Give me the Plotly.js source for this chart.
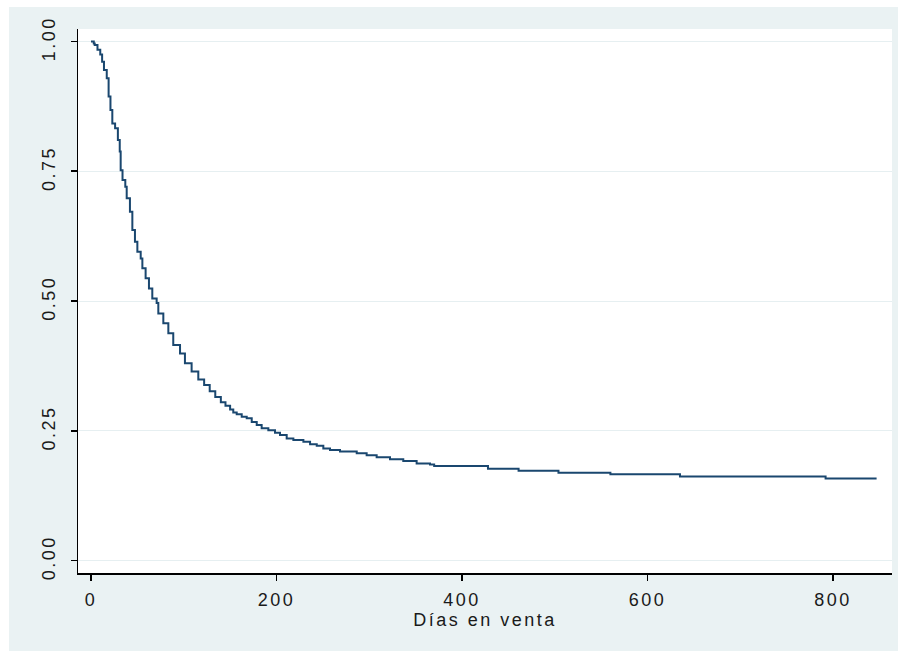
<!DOCTYPE html>
<html>
<head>
<meta charset="utf-8">
<script src="https://cdn.plot.ly/plotly-3.0.1.min.js"></script>
<style>
html,body{margin:0;padding:0;background:#fff;}
#chart{width:906px;height:659px;}
#chart svg text{letter-spacing:2.5px;}
</style>
</head>
<body>
<div id="chart"></div>
<script>
// Kaplan-Meier survival estimate
var days = [0, 3, 4, 7, 10, 12, 14, 17, 19, 21, 23, 26, 29, 31, 32, 34, 37, 38.5, 42, 44.6, 47.4, 50, 53.6, 55.4, 58.9, 62.5, 66.1, 70.8, 72.6, 78, 83.4, 88.7, 96, 101.3, 108.5, 115.7, 122, 128, 134, 140, 145, 150, 153.4, 157.1, 162.5, 167.9, 173.3, 178.7, 184, 191.2, 198.4, 203.8, 211, 218.2, 229, 236.2, 243.4, 250.5, 257.7, 268.5, 286.5, 297.2, 308, 322.4, 336.7, 351.1, 365.5, 370, 428, 461, 504, 560, 635, 792, 847];
var surv = [1.000, 0.996, 0.993, 0.984, 0.975, 0.961, 0.945, 0.929, 0.894, 0.868, 0.842, 0.833, 0.810, 0.788, 0.752, 0.733, 0.720, 0.698, 0.672, 0.637, 0.614, 0.595, 0.582, 0.563, 0.544, 0.524, 0.505, 0.496, 0.476, 0.457, 0.438, 0.415, 0.399, 0.380, 0.364, 0.349, 0.338, 0.326, 0.315, 0.305, 0.298, 0.291, 0.285, 0.282, 0.277, 0.274, 0.267, 0.261, 0.255, 0.251, 0.246, 0.242, 0.235, 0.232, 0.229, 0.224, 0.221, 0.216, 0.213, 0.210, 0.2065, 0.203, 0.199, 0.195, 0.192, 0.187, 0.185, 0.182, 0.177, 0.173, 0.169, 0.166, 0.162, 0.158, 0.158];
var xTicks = [0, 200, 400, 600, 800];
var yTicks = [0, 0.25, 0.5, 0.75, 1];
var yTickText = ["0.00", "0.25", "0.50", "0.75", "1.00"];
var titleText = "Gráfica 3. Función de sobrevivencia";
var xTitle = "Días en venta";

var font = "Liberation Sans, Arial, sans-serif";
var txtColor = "#1a1a1a";
var trace = {
  x: days, y: surv, type: "scatter", mode: "lines",
  line: {shape: "hv", color: "#1a476f", width: 2},
  hoverinfo: "skip", showlegend: false
};
var layout = {
  width: 906, height: 659,
  margin: {l: 78, r: 14, t: 29, b: 86, pad: 0},
  paper_bgcolor: "#ffffff",
  plot_bgcolor: "rgba(0,0,0,0)",
  font: {family: font, size: 18, color: txtColor},
  showlegend: false,
  xaxis: {
    range: [-14, 863.6], tickvals: xTicks, ticktext: xTicks.map(String),
    showgrid: false, zeroline: false,
    showline: true, linecolor: "#000", linewidth: 1.5, mirror: false,
    ticks: "outside", ticklen: 6, tickwidth: 1.5, tickcolor: "#000",
    ticklabelstandoff: 4,
    tickfont: {family: font, size: 18, color: txtColor},
    title: {text: xTitle, font: {family: font, size: 18, color: txtColor}, standoff: 4}
  },
  yaxis: {
    range: [-0.024, 1.024], tickvals: yTicks, ticktext: yTickText,
    showgrid: true, gridcolor: "#e6eff1", gridwidth: 1, zeroline: false,
    showline: true, linecolor: "#000", linewidth: 1.5,
    ticks: "outside", ticklen: 6, tickwidth: 1.5, tickcolor: "#000",
    ticklabelstandoff: 8,
    tickangle: -90, tickfont: {family: font, size: 18, color: txtColor}
  },
  shapes: [
    {type: "rect", xref: "paper", yref: "paper", x0: -0.0848, x1: 1.0074, y0: -0.1434, y1: 1.0404,
     fillcolor: "#eaf2f3", line: {width: 0}, layer: "below"},
    {type: "rect", xref: "paper", yref: "paper", x0: 0, x1: 1, y0: 0, y1: 1,
     fillcolor: "#ffffff", line: {width: 0}, layer: "below"}
  ],
  annotations: [
    {text: titleText, xref: "paper", yref: "paper", x: 0.43, y: 1.0418,
     xanchor: "center", yanchor: "bottom", showarrow: false,
     font: {family: font, size: 19, color: "#222"}}
  ]
};
Plotly.newPlot("chart", [trace], layout, {displayModeBar: false, staticPlot: true});
</script>
</body>
</html>
